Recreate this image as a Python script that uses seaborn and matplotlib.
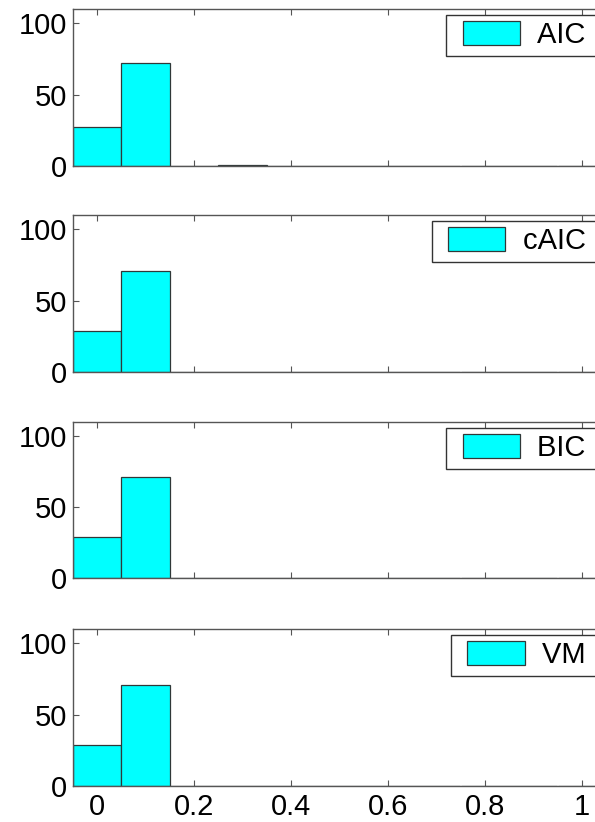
import matplotlib
matplotlib.use("Agg")
import matplotlib.pyplot as plt
import matplotlib.patches as mpatches
from matplotlib.legend_handler import HandlerPatch
import seaborn as sns

# bin centres and counts per criterion
bin_centers = [0.0, 0.1, 0.2, 0.3, 0.4, 0.5, 0.6, 0.7, 0.8, 0.9, 1.0]
bin_edges = [-0.05, 0.05, 0.15, 0.25, 0.35, 0.45, 0.55, 0.65, 0.75, 0.85, 0.95, 1.05]
aic = [27, 72, 0, 1, 0, 0, 0, 0, 0, 0, 0]
caic = [29, 71, 0, 0, 0, 0, 0, 0, 0, 0, 0]
bic = [29, 71, 0, 0, 0, 0, 0, 0, 0, 0, 0]
vm = [29, 71, 0, 0, 0, 0, 0, 0, 0, 0, 0]
names = ["AIC", "cAIC", "BIC", "VM"]
xticks = [0, 0.2, 0.4, 0.6, 0.8, 1]
xtick_labels = ["0", "0.2", "0.4", "0.6", "0.8", "1"]
yticks = [0, 50, 100]

sns.set_style("ticks")
plt.rcParams['font.family'] = ['Liberation Sans', 'DejaVu Sans']
plt.rcParams['font.size'] = 21
plt.rcParams['text.color'] = 'black'

W, H = 595, 822
fig = plt.figure(figsize=(W / 100, H / 100), dpi=100)

# axes boxes in pixels: (top, bottom)
rows = [(9, 166), (215, 372), (422, 578), (629, 786)]
left_px, right_px = 72.5, 606


def box_handle(legend, orig_handle, xdescent, ydescent, width, height, fontsize):
    off = width * 0.15
    return mpatches.Rectangle((-xdescent + off, -ydescent), width - off, height)


edge = "#303838"
for i, (counts, name) in enumerate(zip([aic, caic, bic, vm], names)):
    top, bot = rows[i]
    ax = fig.add_axes([left_px / W, 1 - bot / H, (right_px - left_px) / W, (bot - top) / H])
    sns.histplot(x=bin_centers, weights=counts, bins=bin_edges, color="#00ffff",
                 edgecolor=edge, linewidth=0.9, alpha=1, ax=ax)
    ax.set_xlim(-0.05, 1.05)
    ax.set_ylim(0, 110)
    ax.set_ylabel("")
    ax.set_xticks(xticks)
    ax.set_yticks(yticks)
    if i == 3:
        ax.set_xticklabels(xtick_labels)
    else:
        ax.set_xticklabels([])
    ax.tick_params(direction="in", length=4, width=0.8, top=True, right=True,
                   color="#555555", labelcolor="black", labelsize=21, pad=4)
    ax.tick_params(axis="x", pad=5)
    for s in ax.spines.values():
        s.set_color("#555555")
        s.set_linewidth(1.0)
    h = mpatches.Patch(facecolor="#00ffff", edgecolor=edge, linewidth=0.9, label=name + " ")
    leg = ax.legend(handles=[h], loc="upper right", fontsize=21, fancybox=False,
                    framealpha=1, edgecolor="#333333", borderpad=0.22,
                    borderaxespad=0.2, handlelength=2.3, handleheight=0.9,
                    handletextpad=0.6, handler_map={mpatches.Patch: HandlerPatch(patch_func=box_handle)})
    leg.get_frame().set_linewidth(1.0)
    for t in leg.get_texts():
        t.set_color("black")

fig.savefig("out.png", dpi=100)
